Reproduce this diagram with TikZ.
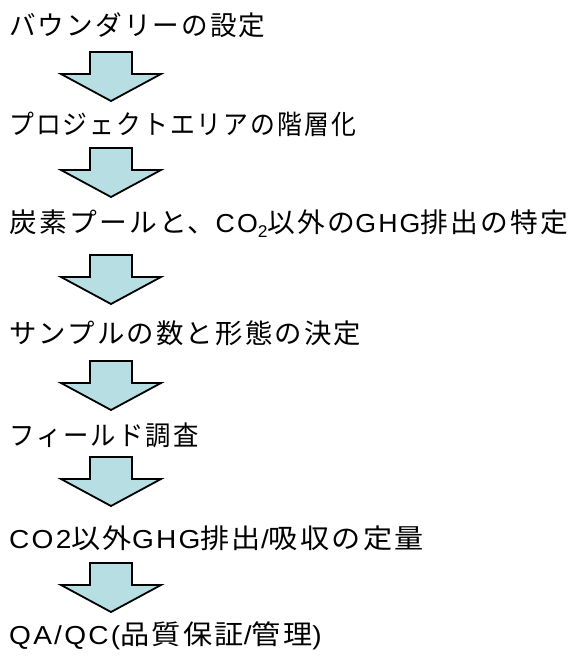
\documentclass[tikz,border=0pt]{standalone}
\usepackage{fontspec}
\newfontfamily\jpf{Noto Sans CJK JP}[LetterSpace=8]
\newfontfamily\latf{Liberation Sans}[LetterSpace=8]
\newcommand\jtx[1]{{\jpf #1}}
\newcommand\ltx[1]{{\latf\fontsize{26}{30}\selectfont #1}}
\definecolor{arrowfill}{RGB}{183,222,226}
\tikzset{
  steptext/.style={anchor=west, inner sep=0pt, font=\fontsize{27}{31}\selectfont},
  downarrow/.style={draw=black, line width=1.8pt, fill=arrowfill, line join=miter},
}
\newcommand\downarr[2]{% #1 = name, #2 = top y
  \coordinate (#1) at (111,#2);
  \draw[downarrow] ([xshift=-21pt]#1) -- ([xshift=21pt]#1) -- ([xshift=21pt,yshift=-22pt]#1)
    -- ([xshift=50pt,yshift=-22pt]#1) -- ([yshift=-49pt]#1) -- ([xshift=-50pt,yshift=-22pt]#1)
    -- ([xshift=-21pt,yshift=-22pt]#1) -- cycle;
}
\begin{document}
\begin{tikzpicture}[x=1pt,y=-1pt]
\useasboundingbox (0,0) rectangle (574,657);
\node[steptext] (t1) at (9,25) {\scalebox{0.985}[1]{\jtx{バウンダリーの設定}}};
\node[steptext] (t2) at (9,124) {\scalebox{0.92}[1]{\jtx{プロジェクトエリアの階層化}}};
\node[steptext] (t3) at (9,224) {\scalebox{1.028}[1]{\jtx{炭素プールと、}\ltx{CO\raisebox{-5pt}{\fontsize{17}{17}\selectfont 2}}\jtx{以外の}\ltx{GHG}\jtx{排出の特定}}};
\node[steptext] (t4) at (9,333) {\scalebox{1.015}[1]{\jtx{サンプルの数と形態の決定}}};
\node[steptext] (t5) at (9,435) {\scalebox{0.94}[1]{\jtx{フィールド調査}}};
\node[steptext] (t6) at (9,538) {\scalebox{1.08}[1]{\ltx{CO2}\jtx{以外}\ltx{GHG}\jtx{排出}\ltx{/}\jtx{吸収の定量}}};
\node[steptext] (t7) at (9,636) {\scalebox{1.08}[1]{\ltx{QA/QC(}\jtx{品質保証}\ltx{/}\jtx{管理}\ltx{)}}};
\downarr{a1}{52}
\downarr{a2}{148}
\downarr{a3}{255}
\downarr{a4}{361}
\downarr{a5}{457}
\downarr{a6}{563}
\end{tikzpicture}
\end{document}
